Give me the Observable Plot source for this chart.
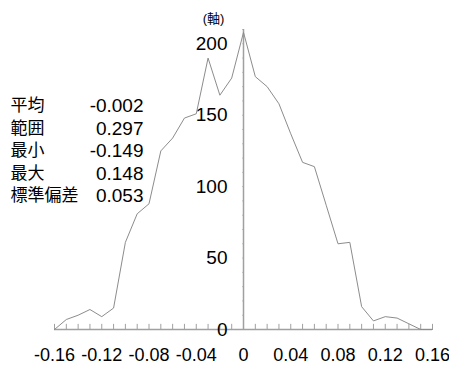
<!DOCTYPE html>
<html>
<head>
<meta charset="utf-8">
<script src="https://cdn.jsdelivr.net/npm/d3@7"></script>
<script src="https://cdn.jsdelivr.net/npm/@observablehq/plot@0.6"></script>
<style>
  html, body { margin: 0; padding: 0; background: #fff; }
  #chart svg { display: block; }
</style>
</head>
<body>
<div id="chart"></div>
<script>
// Bin positions and counts
const binX = [-0.16,-0.15,-0.14,-0.13,-0.12,-0.11,-0.10,-0.09,-0.08,-0.07,-0.06,-0.05,-0.04,-0.03,-0.02,-0.01,0,0.01,0.02,0.03,0.04,0.05,0.06,0.07,0.08,0.09,0.10,0.11,0.12,0.13,0.14,0.15,0.16];
const counts = [0,7,10,14,9,15,61,81,88,125,134,148,151,190,164,176,208,177,170,158,137,117,114,87,60,61,16,6,9,8,4,0,0];

// Axis ticks and labels
const xTickLabels = [-0.16,-0.12,-0.08,-0.04,0,0.04,0.08,0.12,0.16];
const xMinorTicks = d3.range(-16, 17).map(i => i / 100);
const yTickLabels = [0, 50, 100, 150, 200];
const yMinorTicks = d3.range(0, 211, 10);
const yAxisTitle = "(軸)";

// Summary statistics
const statNames = ["平均", "範囲", "最小", "最大", "標準偏差"];
const statValues = ["-0.002", "0.297", "-0.149", "0.148", "0.053"];

const data = binX.map((x, i) => ({x, y: counts[i]}));
const axisColor = "#a0a0a0";
const fmtX = d => d === 0 ? "0" : d.toFixed(2);

const chart = Plot.plot({
  width: 449,
  height: 367,
  marginLeft: 54,
  marginRight: 17,
  marginTop: 29,
  marginBottom: 38,
  x: {domain: [-0.16, 0.16], axis: null},
  y: {domain: [0, 210], axis: null},
  style: {
    fontFamily: "'Liberation Sans', Arial, 'Noto Sans CJK JP', sans-serif",
    fontSize: "18px",
    background: "#fff",
    color: "#000"
  },
  marks: [
    // x axis
    Plot.ruleY([0], {x1: -0.16, x2: 0.16, stroke: axisColor, strokeWidth: 1.5}),
    Plot.ruleX(xMinorTicks, {x: d => d, y1: 0, y2: 3.6, stroke: axisColor}),
    // y axis
    Plot.ruleX([0], {y1: 0, y2: 210, stroke: axisColor, strokeWidth: 1.5}),
    Plot.ruleY(yMinorTicks, {y: d => d, x1: -0.0005, x2: 0.0005, stroke: axisColor}),
    // data line
    Plot.line(data, {x: "x", y: "y", stroke: "#8c8c8c", strokeWidth: 1}),
    // tick labels
    Plot.text(xTickLabels, {x: d => d, y: 0, text: fmtX, dy: 26, fontSize: 18, fill: "#000"}),
    Plot.text(yTickLabels, {x: 0, y: d => d, text: d => String(d), textAnchor: "end", dx: -16, fontSize: 19, fill: "#000"}),
    Plot.text([yAxisTitle], {x: 0, y: 210, text: d => d, dx: -30, dy: -11, fontSize: 13, fill: "#000"}),
    // statistics block
    Plot.text([statNames.join("\n")], {frameAnchor: "top-left", text: d => d, dx: -44, dy: 66, lineAnchor: "top", lineHeight: 1.32, fontSize: 17, textAnchor: "start", fill: "#000"}),
    Plot.text([statValues.join("\n")], {frameAnchor: "top-left", text: d => d, dx: 89, dy: 67, lineAnchor: "top", lineHeight: 1.18, fontSize: 19, textAnchor: "end", fill: "#000"})
  ]
});
document.getElementById("chart").appendChild(chart);
</script>
</body>
</html>
